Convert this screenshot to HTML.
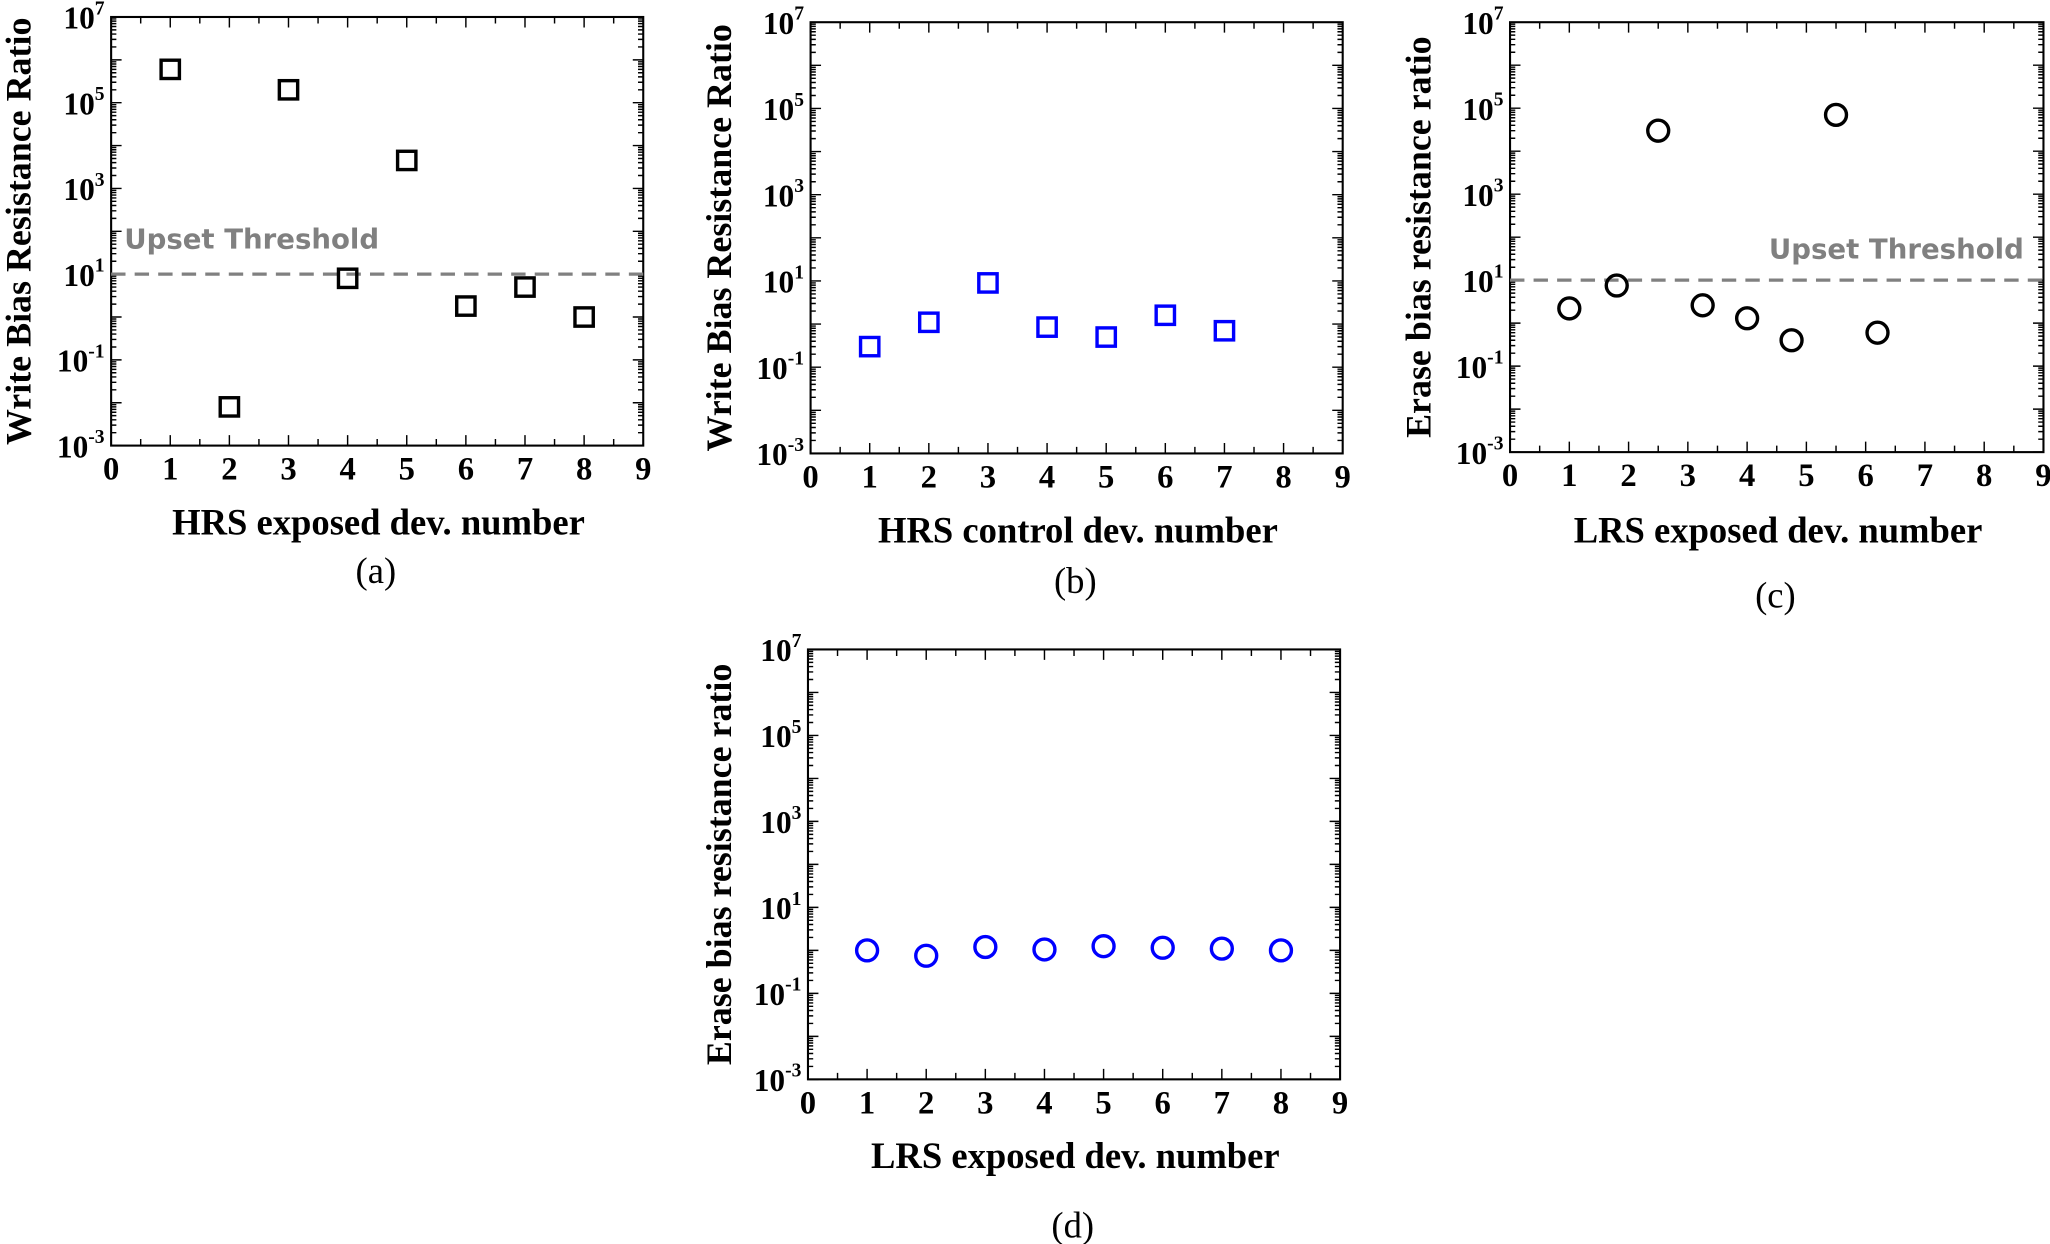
<!DOCTYPE html>
<html><head><meta charset="utf-8"><style>
html,body{margin:0;padding:0;background:#fff;}
svg{display:block;}
text{font-family:"Liberation Serif",serif;font-weight:bold;fill:#000;}
.cap{font-weight:normal;}
.ut{font-family:"DejaVu Sans",sans-serif;font-weight:bold;fill:#808080;}
</style></head><body>
<svg id="fig" width="2050" height="1244" viewBox="0 0 1568 952" preserveAspectRatio="none" xmlns="http://www.w3.org/2000/svg"></svg>
<script>
const aX=[1,2,3,4,5,6,7,8];
const aY=[6e5,0.008,2e5,8,4500,1.8,5,1.0];
const bX=[1,2,3,4,5,6,7];
const bY=[0.3,1.1,9,0.85,0.5,1.6,0.7];
const cX=[1,1.8,2.5,3.25,4,4.75,5.5,6.2];
const cY=[2.2,7.5,3e4,2.6,1.3,0.4,7e4,0.6];
const dX=[1,2,3,4,5,6,7,8];
const dY=[1.0,0.75,1.2,1.05,1.25,1.15,1.1,1.0];
const xTicks=[0,1,2,3,4,5,6,7,8,9];
const yExps=[-3,-1,1,3,5,7];
const threshold=10;

const NS="http://www.w3.org/2000/svg";
const svg=document.getElementById('fig');
function el(tag,attrs,parent,txt){const e=document.createElementNS(NS,tag);for(const k in attrs)e.setAttribute(k,attrs[k]);if(txt!==undefined)e.textContent=txt;(parent||svg).appendChild(e);return e;}

const panels=[
 {id:'a',L:85,R:492,T:13,B:341,xs:aX,ys:aY,marker:'square',color:'#000',ylab:'Write Bias Resistance Ratio',ylx:14,xlab:'HRS exposed dev. number',xly:409,cap:'(a)',capy:446,thr:true,utx:95,uty:190,uta:'start'},
 {id:'b',L:620,R:1027,T:17,B:347,xs:bX,ys:bY,marker:'square',color:'#0000ff',ylab:'Write Bias Resistance Ratio',ylx:550,xlab:'HRS control dev. number',xly:415,cap:'(b)',capy:454,thr:false},
 {id:'c',L:1155,R:1563,T:17,B:346,xs:cX,ys:cY,marker:'circle',color:'#000',ylab:'Erase bias resistance ratio',ylx:1085,xlab:'LRS exposed dev. number',xly:415,cap:'(c)',capy:465,thr:true,utx:1548,uty:198,uta:'end'},
 {id:'d',L:618,R:1025,T:497,B:826,xs:dX,ys:dY,marker:'circle',color:'#0000ff',ylab:'Erase bias resistance ratio',ylx:550,xlab:'LRS exposed dev. number',xly:894,cap:'(d)',capy:947,thr:false}
];

panels.forEach(p=>{
 const g=el('g',{});
 
 
 const sx=v=>p.L+(v-0)/(9-0)*(p.R-p.L);
 const sy=v=>p.B-(Math.log10(v)+3)/10*(p.B-p.T);
 const fr=el('rect',{x:p.L,y:p.T,width:p.R-p.L,height:p.B-p.T,fill:'none',stroke:'#000','stroke-width':1.6},g);
 
 
 let d='';
 for(let e=-3;e<=7;e++){
  const y=sy(Math.pow(10,e));
  d+=`M${p.L},${y}h8M${p.R},${y}h-8`;
  if(e<7)for(let m=2;m<=9;m++){const yy=sy(m*Math.pow(10,e));d+=`M${p.L},${yy}h4M${p.R},${yy}h-4`;}
 }
 for(let v=0;v<=9;v+=0.5){const x=sx(v);const L=(v%1===0)?8:5;d+=`M${x},${p.B}v-${L}M${x},${p.T}v${L}`;}
 const tk=el('path',{d:d,stroke:'#000','stroke-width':1.1,fill:'none'},g);
 
 
 yExps.forEach(e=>{
  const t=el('text',{x:p.L-5,y:sy(Math.pow(10,e))+9,'text-anchor':'end','font-size':24},g,'10');
  
  
  el('tspan',{dy:-11,'font-size':15},t,String(e));
 });
 xTicks.forEach(v=>{
  const t=el('text',{x:sx(v),y:p.B+26,'text-anchor':'middle','font-size':25},g,String(v));
  
  
 });
 const yl=el('text',{x:p.ylx,y:(p.T+p.B)/2,'text-anchor':'middle','font-size':27.5,transform:`rotate(-90 ${p.ylx} ${(p.T+p.B)/2})`,'dominant-baseline':'central'},g,p.ylab);
 
 
 const xl=el('text',{x:(p.L+p.R)/2+1,y:p.xly,'text-anchor':'middle','font-size':28},g,p.xlab);
 
 
 const cp=el('text',{x:(p.L+p.R)/2-1,y:p.capy,'text-anchor':'middle','font-size':28,'class':'cap'},g,p.cap);
 
 
 if(p.thr){
  const ln=el('line',{x1:p.L,x2:p.R,y1:sy(threshold),y2:sy(threshold),stroke:'#808080','stroke-width':2.5,'stroke-dasharray':'11,7'},g);
  
  
  const ut=el('text',{x:p.utx,y:p.uty,'text-anchor':p.uta,'font-size':21,'class':'ut',textLength:195,lengthAdjust:'spacingAndGlyphs'},g,'Upset Threshold');
  
  
 }
 p.xs.forEach((xv,i)=>{
  const cx=sx(xv),cy=sy(p.ys[i]);
  let m;
  if(p.marker==='square') m=el('rect',{x:cx-7,y:cy-7,width:14,height:14,fill:'none',stroke:p.color,'stroke-width':2.6},g);
  else m=el('circle',{cx:cx,cy:cy,r:8,fill:'none',stroke:p.color,'stroke-width':2.6},g);
  
  
 });
});
</script>
</body></html>
